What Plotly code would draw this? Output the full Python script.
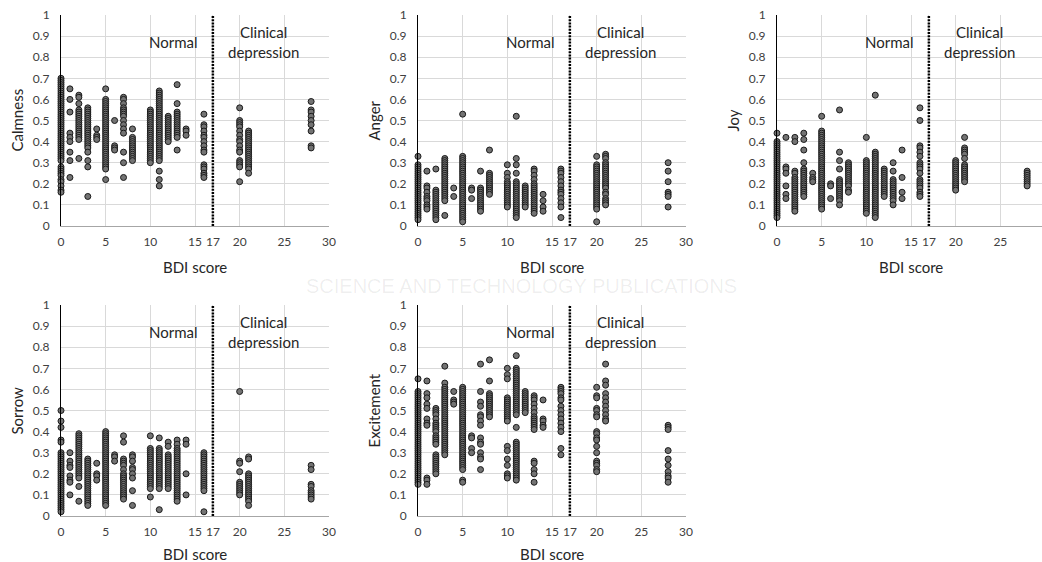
import plotly.graph_objects as go

# ---------------- data ----------------
BDI = [0, 1, 2, 3, 4, 5, 6, 7, 8, 10, 11, 12, 13, 14, 16, 20, 21, 28]
X_TICKS = [0, 5, 10, 15, 17, 20, 25, 30]
Y_TICKS = [0, 0.1, 0.2, 0.3, 0.4, 0.5, 0.6, 0.7, 0.8, 0.9, 1]
Y_TICK_TEXT = ["0", "0.1", "0.2", "0.3", "0.4", "0.5", "0.6", "0.7", "0.8", "0.9", "1"]
THRESHOLD = 17

calmness = [
    [0.70, 0.69, 0.68, 0.67, 0.66, 0.65, 0.64, 0.63, 0.62, 0.61, 0.60, 0.59, 0.58, 0.57, 0.56, 0.55, 0.54, 0.53,
     0.52, 0.51, 0.50, 0.49, 0.48, 0.47, 0.46, 0.45, 0.44, 0.43, 0.42, 0.41, 0.40, 0.39, 0.38, 0.37, 0.36, 0.35,
     0.34, 0.33, 0.32, 0.31, 0.28, 0.27, 0.26, 0.25, 0.24, 0.22, 0.21, 0.19, 0.17, 0.16],
    [0.65, 0.60, 0.54, 0.44, 0.42, 0.40, 0.35, 0.31, 0.23],
    [0.62, 0.61, 0.58, 0.55, 0.54, 0.53, 0.52, 0.51, 0.50, 0.49, 0.48, 0.47, 0.46, 0.45, 0.44, 0.43, 0.42, 0.41, 0.32],
    [0.56, 0.55, 0.54, 0.53, 0.52, 0.51, 0.50, 0.49, 0.48, 0.47, 0.46, 0.45, 0.44, 0.43, 0.42, 0.41, 0.40, 0.39,
     0.38, 0.37, 0.35, 0.31, 0.28, 0.14],
    [0.46, 0.43, 0.42, 0.41],
    [0.65, 0.60, 0.59, 0.58, 0.57, 0.56, 0.55, 0.54, 0.53, 0.52, 0.51, 0.50, 0.49, 0.48, 0.47, 0.46, 0.45, 0.44,
     0.43, 0.42, 0.41, 0.40, 0.39, 0.38, 0.37, 0.36, 0.35, 0.34, 0.33, 0.32, 0.31, 0.30, 0.29, 0.28, 0.27, 0.22],
    [0.50, 0.38, 0.37, 0.36],
    [0.61, 0.60, 0.58, 0.56, 0.55, 0.54, 0.53, 0.52, 0.50, 0.48, 0.46, 0.44, 0.35, 0.30, 0.23],
    [0.46, 0.42, 0.41, 0.40, 0.39, 0.38, 0.37, 0.36, 0.35, 0.34, 0.33, 0.32, 0.31],
    [0.55, 0.54, 0.53, 0.52, 0.51, 0.50, 0.49, 0.48, 0.47, 0.46, 0.45, 0.44, 0.43, 0.42, 0.41, 0.40, 0.39, 0.38,
     0.37, 0.36, 0.35, 0.34, 0.33, 0.32, 0.31, 0.30],
    [0.64, 0.63, 0.62, 0.61, 0.60, 0.59, 0.58, 0.57, 0.56, 0.55, 0.54, 0.53, 0.52, 0.51, 0.50, 0.49, 0.48, 0.47,
     0.46, 0.45, 0.44, 0.43, 0.42, 0.41, 0.40, 0.39, 0.38, 0.37, 0.36, 0.35, 0.34, 0.33, 0.32, 0.31, 0.26, 0.22, 0.19],
    [0.52, 0.51, 0.50, 0.49, 0.48, 0.47, 0.46, 0.45, 0.44, 0.43, 0.42, 0.41, 0.40],
    [0.67, 0.58, 0.54, 0.53, 0.52, 0.51, 0.50, 0.49, 0.48, 0.47, 0.46, 0.45, 0.44, 0.43, 0.42, 0.36],
    [0.46, 0.45, 0.43],
    [0.53, 0.48, 0.47, 0.45, 0.43, 0.42, 0.40, 0.38, 0.36, 0.35, 0.29, 0.28, 0.27, 0.25, 0.24, 0.23],
    [0.56, 0.50, 0.49, 0.48, 0.47, 0.45, 0.43, 0.41, 0.40, 0.38, 0.36, 0.35, 0.31, 0.30, 0.29, 0.28, 0.21],
    [0.45, 0.44, 0.43, 0.42, 0.41, 0.40, 0.39, 0.38, 0.37, 0.36, 0.35, 0.34, 0.33, 0.32, 0.31, 0.30, 0.29, 0.28,
     0.27, 0.25],
    [0.59, 0.55, 0.54, 0.52, 0.50, 0.48, 0.45, 0.38, 0.37],
]

anger = [
    [0.33, 0.29, 0.28, 0.27, 0.26, 0.25, 0.24, 0.23, 0.22, 0.21, 0.20, 0.19, 0.18, 0.17, 0.16, 0.15, 0.14, 0.13,
     0.12, 0.11, 0.10, 0.09, 0.08, 0.07, 0.06, 0.05, 0.04, 0.03],
    [0.26, 0.19, 0.18, 0.16, 0.14, 0.13, 0.12, 0.10, 0.09, 0.08],
    [0.27, 0.17, 0.16, 0.15, 0.14, 0.13, 0.12, 0.11, 0.10, 0.09, 0.08, 0.07, 0.06, 0.05, 0.04, 0.03],
    [0.32, 0.31, 0.30, 0.29, 0.28, 0.27, 0.26, 0.25, 0.24, 0.23, 0.22, 0.21, 0.20, 0.19, 0.18, 0.17, 0.16, 0.15,
     0.14, 0.13, 0.12, 0.05],
    [0.18, 0.14],
    [0.53, 0.33, 0.32, 0.31, 0.30, 0.29, 0.28, 0.27, 0.26, 0.25, 0.24, 0.23, 0.22, 0.21, 0.20, 0.19, 0.18, 0.17,
     0.16, 0.15, 0.14, 0.13, 0.12, 0.11, 0.10, 0.09, 0.08, 0.07, 0.06, 0.05, 0.04, 0.03, 0.02],
    [0.18, 0.17, 0.13],
    [0.26, 0.18, 0.17, 0.16, 0.15, 0.14, 0.13, 0.12, 0.11, 0.10, 0.09, 0.08, 0.07],
    [0.36, 0.25, 0.24, 0.23, 0.22, 0.21, 0.20, 0.19, 0.18, 0.17, 0.16, 0.15],
    [0.29, 0.25, 0.23, 0.21, 0.20, 0.19, 0.18, 0.17, 0.16, 0.15, 0.14, 0.13, 0.12, 0.11, 0.10, 0.09],
    [0.52, 0.32, 0.29, 0.25, 0.21, 0.20, 0.19, 0.18, 0.17, 0.16, 0.15, 0.14, 0.13, 0.12, 0.11, 0.10, 0.09, 0.08,
     0.07, 0.06, 0.05, 0.04],
    [0.19, 0.18, 0.17, 0.16, 0.15, 0.14, 0.13, 0.12, 0.11, 0.10, 0.09],
    [0.27, 0.26, 0.24, 0.22, 0.20, 0.19, 0.18, 0.17, 0.16, 0.15, 0.14, 0.13, 0.12, 0.11, 0.10, 0.09, 0.08, 0.07, 0.06],
    [0.15, 0.12, 0.09, 0.07],
    [0.27, 0.26, 0.25, 0.23, 0.21, 0.19, 0.17, 0.16, 0.15, 0.13, 0.11, 0.09, 0.04],
    [0.33, 0.29, 0.28, 0.27, 0.26, 0.25, 0.24, 0.23, 0.22, 0.21, 0.20, 0.19, 0.18, 0.17, 0.16, 0.15, 0.14, 0.13,
     0.12, 0.11, 0.10, 0.09, 0.08, 0.02],
    [0.34, 0.33, 0.32, 0.30, 0.29, 0.28, 0.27, 0.26, 0.25, 0.24, 0.23, 0.22, 0.21, 0.20, 0.19, 0.18, 0.16, 0.15,
     0.13, 0.12, 0.11, 0.10],
    [0.30, 0.26, 0.21, 0.16, 0.15, 0.14, 0.09],
]

joy = [
    [0.44, 0.40, 0.39, 0.38, 0.37, 0.36, 0.35, 0.34, 0.33, 0.32, 0.31, 0.30, 0.29, 0.28, 0.27, 0.26, 0.25, 0.24,
     0.23, 0.22, 0.21, 0.20, 0.19, 0.18, 0.17, 0.16, 0.15, 0.14, 0.13, 0.12, 0.11, 0.10, 0.09, 0.08, 0.07, 0.06,
     0.05, 0.04],
    [0.42, 0.28, 0.27, 0.25, 0.19, 0.15, 0.13],
    [0.42, 0.40, 0.26, 0.25, 0.23, 0.22, 0.21, 0.20, 0.19, 0.18, 0.17, 0.16, 0.15, 0.14, 0.13, 0.12, 0.11, 0.10,
     0.09, 0.08, 0.07],
    [0.44, 0.41, 0.36, 0.30, 0.27, 0.26, 0.25, 0.24, 0.23, 0.22, 0.21, 0.20, 0.19, 0.18, 0.17, 0.16, 0.15, 0.14],
    [0.25, 0.23, 0.22, 0.21],
    [0.52, 0.45, 0.44, 0.43, 0.42, 0.41, 0.40, 0.39, 0.38, 0.37, 0.36, 0.35, 0.34, 0.33, 0.32, 0.31, 0.30, 0.29,
     0.28, 0.27, 0.26, 0.25, 0.24, 0.23, 0.22, 0.21, 0.20, 0.19, 0.18, 0.17, 0.16, 0.15, 0.14, 0.13, 0.12, 0.11,
     0.10, 0.09, 0.08],
    [0.20, 0.19, 0.13],
    [0.55, 0.35, 0.31, 0.27, 0.22, 0.21, 0.20, 0.19, 0.18, 0.17, 0.16, 0.15, 0.14, 0.13, 0.12, 0.10],
    [0.30, 0.29, 0.28, 0.27, 0.26, 0.25, 0.24, 0.23, 0.22, 0.21, 0.20, 0.19, 0.17, 0.16],
    [0.42, 0.31, 0.30, 0.29, 0.28, 0.27, 0.26, 0.25, 0.24, 0.23, 0.22, 0.21, 0.20, 0.19, 0.18, 0.17, 0.16, 0.15,
     0.14, 0.13, 0.12, 0.11, 0.10, 0.09, 0.08, 0.07, 0.06],
    [0.62, 0.35, 0.34, 0.33, 0.32, 0.31, 0.30, 0.29, 0.28, 0.27, 0.26, 0.25, 0.24, 0.23, 0.22, 0.21, 0.20, 0.19,
     0.18, 0.17, 0.16, 0.15, 0.14, 0.13, 0.12, 0.11, 0.10, 0.09, 0.08, 0.07, 0.06, 0.05, 0.04],
    [0.27, 0.26, 0.25, 0.24, 0.23, 0.22, 0.21, 0.20, 0.19, 0.18, 0.17, 0.16, 0.15, 0.14],
    [0.30, 0.26, 0.22, 0.21, 0.20, 0.19, 0.18, 0.17, 0.16, 0.15, 0.14, 0.13, 0.12, 0.10],
    [0.36, 0.23, 0.16, 0.13],
    [0.56, 0.50, 0.38, 0.37, 0.35, 0.33, 0.30, 0.29, 0.28, 0.27, 0.25, 0.22, 0.21, 0.20, 0.19, 0.18, 0.16, 0.15, 0.14],
    [0.31, 0.30, 0.29, 0.28, 0.27, 0.26, 0.25, 0.24, 0.23, 0.22, 0.21, 0.20, 0.19, 0.18, 0.17],
    [0.42, 0.37, 0.36, 0.35, 0.34, 0.32, 0.29, 0.28, 0.27, 0.26, 0.25, 0.24, 0.23, 0.22, 0.21],
    [0.26, 0.25, 0.24, 0.23, 0.22, 0.21, 0.20, 0.19],
]

sorrow = [
    [0.50, 0.45, 0.42, 0.36, 0.35, 0.30, 0.29, 0.28, 0.27, 0.26, 0.25, 0.24, 0.23, 0.22, 0.21, 0.20, 0.19, 0.18,
     0.17, 0.16, 0.15, 0.14, 0.13, 0.12, 0.11, 0.10, 0.09, 0.08, 0.07, 0.06, 0.05, 0.04, 0.03, 0.02],
    [0.30, 0.26, 0.24, 0.23, 0.19, 0.17, 0.16, 0.10],
    [0.39, 0.38, 0.37, 0.36, 0.35, 0.34, 0.33, 0.32, 0.31, 0.30, 0.29, 0.28, 0.27, 0.26, 0.25, 0.24, 0.23, 0.22,
     0.21, 0.20, 0.19, 0.18, 0.14, 0.07],
    [0.27, 0.26, 0.25, 0.24, 0.23, 0.22, 0.21, 0.20, 0.19, 0.18, 0.17, 0.16, 0.15, 0.14, 0.13, 0.12, 0.11, 0.10,
     0.09, 0.08, 0.07, 0.06, 0.05],
    [0.25, 0.20, 0.19, 0.17],
    [0.40, 0.39, 0.38, 0.37, 0.36, 0.35, 0.34, 0.33, 0.32, 0.31, 0.30, 0.29, 0.28, 0.27, 0.26, 0.25, 0.24, 0.23,
     0.22, 0.21, 0.20, 0.19, 0.18, 0.17, 0.16, 0.15, 0.14, 0.13, 0.12, 0.11, 0.10, 0.09, 0.08, 0.07, 0.06, 0.05],
    [0.29, 0.28, 0.26],
    [0.38, 0.35, 0.27, 0.26, 0.25, 0.24, 0.22, 0.20, 0.19, 0.18, 0.17, 0.16, 0.15, 0.14, 0.13, 0.12, 0.11, 0.10,
     0.09, 0.08],
    [0.29, 0.28, 0.26, 0.23, 0.22, 0.20, 0.18, 0.12, 0.05],
    [0.38, 0.32, 0.31, 0.30, 0.29, 0.28, 0.27, 0.26, 0.25, 0.24, 0.23, 0.22, 0.21, 0.20, 0.19, 0.18, 0.17, 0.16,
     0.15, 0.14, 0.13, 0.09],
    [0.37, 0.32, 0.31, 0.30, 0.29, 0.28, 0.27, 0.26, 0.25, 0.24, 0.23, 0.22, 0.21, 0.20, 0.19, 0.18, 0.17, 0.16,
     0.15, 0.14, 0.13, 0.03],
    [0.35, 0.33, 0.29, 0.28, 0.27, 0.26, 0.25, 0.24, 0.23, 0.22, 0.21, 0.20, 0.19, 0.18, 0.17, 0.16, 0.15, 0.14, 0.13],
    [0.36, 0.34, 0.32, 0.31, 0.30, 0.29, 0.28, 0.27, 0.26, 0.25, 0.24, 0.23, 0.22, 0.21, 0.20, 0.19, 0.18, 0.17,
     0.16, 0.15, 0.14, 0.13, 0.12, 0.11, 0.10, 0.09, 0.08, 0.07],
    [0.36, 0.34, 0.20, 0.10],
    [0.30, 0.29, 0.28, 0.27, 0.26, 0.25, 0.24, 0.23, 0.22, 0.21, 0.20, 0.19, 0.18, 0.17, 0.16, 0.15, 0.14, 0.13,
     0.12, 0.02],
    [0.59, 0.26, 0.25, 0.21, 0.16, 0.15, 0.14, 0.13, 0.12, 0.11, 0.10],
    [0.28, 0.27, 0.20, 0.19, 0.18, 0.17, 0.16, 0.15, 0.14, 0.13, 0.12, 0.11, 0.10, 0.09, 0.08, 0.07, 0.05],
    [0.24, 0.22, 0.15, 0.14, 0.12, 0.11, 0.10, 0.09, 0.08],
]

excitement = [
    [0.65, 0.59, 0.58, 0.57, 0.56, 0.55, 0.54, 0.53, 0.52, 0.51, 0.50, 0.49, 0.48, 0.47, 0.46, 0.45, 0.44, 0.43,
     0.42, 0.41, 0.40, 0.39, 0.38, 0.37, 0.36, 0.35, 0.34, 0.33, 0.32, 0.31, 0.30, 0.29, 0.28, 0.27, 0.26, 0.25,
     0.24, 0.23, 0.22, 0.21, 0.20, 0.19, 0.18, 0.17, 0.16, 0.15],
    [0.64, 0.58, 0.56, 0.53, 0.51, 0.46, 0.44, 0.43, 0.18, 0.17, 0.15],
    [0.51, 0.50, 0.49, 0.48, 0.46, 0.44, 0.43, 0.42, 0.41, 0.40, 0.38, 0.37, 0.36, 0.35, 0.34, 0.29, 0.28, 0.27,
     0.26, 0.25, 0.24, 0.23, 0.22, 0.21, 0.20],
    [0.71, 0.63, 0.61, 0.60, 0.59, 0.58, 0.57, 0.56, 0.55, 0.54, 0.53, 0.52, 0.51, 0.50, 0.49, 0.48, 0.47, 0.46,
     0.45, 0.44, 0.43, 0.42, 0.41, 0.40, 0.39, 0.38, 0.37, 0.36, 0.35, 0.34, 0.33, 0.32, 0.31, 0.30, 0.29],
    [0.59, 0.55, 0.54, 0.53],
    [0.61, 0.60, 0.59, 0.58, 0.57, 0.56, 0.55, 0.54, 0.53, 0.52, 0.51, 0.50, 0.49, 0.48, 0.47, 0.46, 0.45, 0.44,
     0.43, 0.42, 0.41, 0.40, 0.39, 0.38, 0.37, 0.36, 0.35, 0.34, 0.33, 0.32, 0.31, 0.30, 0.29, 0.28, 0.27, 0.26,
     0.25, 0.24, 0.23, 0.22, 0.17, 0.16],
    [0.38, 0.37, 0.32, 0.30],
    [0.72, 0.59, 0.54, 0.52, 0.48, 0.47, 0.45, 0.43, 0.37, 0.35, 0.34, 0.30, 0.28, 0.27, 0.22],
    [0.74, 0.64, 0.58, 0.57, 0.56, 0.55, 0.54, 0.53, 0.52, 0.51, 0.50, 0.49, 0.48, 0.47],
    [0.70, 0.67, 0.65, 0.56, 0.55, 0.54, 0.53, 0.52, 0.51, 0.50, 0.49, 0.48, 0.47, 0.46, 0.45, 0.33, 0.31, 0.27,
     0.24, 0.20, 0.19, 0.18],
    [0.76, 0.70, 0.69, 0.68, 0.67, 0.66, 0.65, 0.64, 0.63, 0.62, 0.61, 0.60, 0.59, 0.58, 0.57, 0.56, 0.55, 0.54,
     0.53, 0.52, 0.51, 0.50, 0.49, 0.48, 0.42, 0.35, 0.34, 0.33, 0.32, 0.31, 0.30, 0.29, 0.28, 0.27, 0.26, 0.25,
     0.24, 0.23, 0.22, 0.21, 0.20, 0.19, 0.18, 0.17],
    [0.59, 0.58, 0.57, 0.56, 0.55, 0.54, 0.53, 0.52, 0.51, 0.50, 0.49],
    [0.57, 0.56, 0.55, 0.53, 0.51, 0.49, 0.47, 0.46, 0.45, 0.44, 0.43, 0.42, 0.41, 0.26, 0.25, 0.22, 0.20, 0.16],
    [0.55, 0.46, 0.45, 0.43, 0.42],
    [0.61, 0.60, 0.59, 0.58, 0.56, 0.55, 0.52, 0.50, 0.48, 0.46, 0.44, 0.42, 0.40, 0.32, 0.29],
    [0.61, 0.57, 0.56, 0.51, 0.50, 0.48, 0.47, 0.40, 0.39, 0.37, 0.36, 0.33, 0.30, 0.26, 0.25, 0.24, 0.22, 0.21],
    [0.72, 0.64, 0.62, 0.58, 0.56, 0.54, 0.52, 0.50, 0.48, 0.46, 0.45],
    [0.43, 0.42, 0.41, 0.31, 0.27, 0.24, 0.21, 0.19, 0.18, 0.16],
]

PANELS = [("Calmness", calmness), ("Anger", anger), ("Joy", joy), ("Sorrow", sorrow), ("Excitement", excitement)]
X_TITLE = "BDI score"
LABEL_NORMAL = "Normal"
LABEL_CLINICAL = "Clinical<br>depression"
WATERMARK = "SCIENCE AND TECHNOLOGY PUBLICATIONS"

# ---------------- layout geometry (pixels of a 1042x562 canvas) ----------------
W, H = 1042, 562
PX_PER_UNIT = (329 - 61) / 30.0
COL_LEFT = [61, 418, 777]
ROW_TOP_BOTTOM = [(15, 226), (305, 516)]
XTITLE_OFFSET = [41, 38]
FONT = "Lato, 'Open Sans', sans-serif"
TEXT_COLOR = "#262626"
TICK_COLOR = "#404040"
GRID = "#d9d9d9"

fig = go.Figure()

for k, (name, cols) in enumerate(PANELS):
    r, c = divmod(k, 3)
    ax = "" if k == 0 else str(k + 1)
    left = COL_LEFT[c]
    right = min(left + 30 * PX_PER_UNIT, W)
    xmax = (right - left) / PX_PER_UNIT
    top, bot = ROW_TOP_BOTTOM[r]
    xs, ys = [], []
    for b, vals in zip(BDI, cols):
        xs.extend([b] * len(vals))
        ys.extend(vals)
    fig.add_trace(go.Scatter(
        x=xs, y=ys, mode="markers", xaxis="x" + ax, yaxis="y" + ax, showlegend=False, hoverinfo="skip",
        marker=dict(size=6, color="#737373", line=dict(width=1, color="#1a1a1a")),
        cliponaxis=False,
    ))
    fig.layout["xaxis" + ax] = dict(
        domain=[left / W, right / W], range=[0, xmax], anchor="y" + ax,
        tickmode="array", tickvals=X_TICKS, ticktext=[str(v) for v in X_TICKS],
        showgrid=True, gridcolor=GRID, gridwidth=1, zeroline=False,
        showline=True, linecolor="#a6a6a6", linewidth=1, ticks="", ticklabelstandoff=5,
        tickfont=dict(family=FONT, size=12, color=TICK_COLOR), fixedrange=True, automargin=False,
    )
    fig.layout["yaxis" + ax] = dict(
        domain=[1 - bot / H, 1 - top / H], range=[0, 1], anchor="x" + ax,
        tickmode="array", tickvals=Y_TICKS, ticktext=Y_TICK_TEXT,
        showgrid=True, gridcolor=GRID, gridwidth=1, zeroline=False,
        showline=True, linecolor="#000000", linewidth=1, ticks="", ticklabelstandoff=8,
        tickfont=dict(family=FONT, size=12, color=TICK_COLOR), fixedrange=True, automargin=False,
    )
    # threshold line at BDI = 17
    fig.add_shape(type="line", xref="x" + ax, yref="y" + ax, x0=THRESHOLD, x1=THRESHOLD, y0=0, y1=1,
                  line=dict(color="#000000", width=2.5, dash="2px,1.2px"))
    # region labels
    fig.add_annotation(xref="x" + ax, yref="y" + ax, x=12.6, y=0.87, text=LABEL_NORMAL, showarrow=False,
                       font=dict(family=FONT, size=15, color=TEXT_COLOR))
    fig.add_annotation(xref="x" + ax, yref="y" + ax, x=22.7, y=0.87, text=LABEL_CLINICAL, showarrow=False,
                       font=dict(family=FONT, size=15, color=TEXT_COLOR))
    # axis titles
    fig.add_annotation(xref="paper", yref="paper", x=(left - 45) / W, y=1 - (top + bot) / 2 / H,
                       text=name, textangle=-90, showarrow=False, xanchor="center", yanchor="middle",
                       font=dict(family=FONT, size=15, color=TEXT_COLOR))
    fig.add_annotation(xref="paper", yref="paper", x=(left + (left + 30 * PX_PER_UNIT)) / 2 / W,
                       y=1 - (bot + XTITLE_OFFSET[r]) / H, text=X_TITLE, showarrow=False,
                       xanchor="center", yanchor="middle",
                       font=dict(family=FONT, size=15, color=TEXT_COLOR))

# faint publisher watermark visible in the reference
fig.add_annotation(xref="paper", yref="paper", x=0.5, y=1 - 286 / H, text=WATERMARK,
                   showarrow=False, xanchor="center", yanchor="middle",
                   font=dict(family="'Liberation Sans', sans-serif", size=20, color="rgba(0,0,0,0.07)"))

fig.update_layout(
    width=W, height=H, margin=dict(l=0, r=0, t=0, b=0, autoexpand=False),
    paper_bgcolor="white", plot_bgcolor="white", hovermode=False,
)

fig.write_html("out.html", config={"displayModeBar": False, "staticPlot": True},
               post_script="document.body.style.margin='0';document.body.style.overflow='hidden';")
